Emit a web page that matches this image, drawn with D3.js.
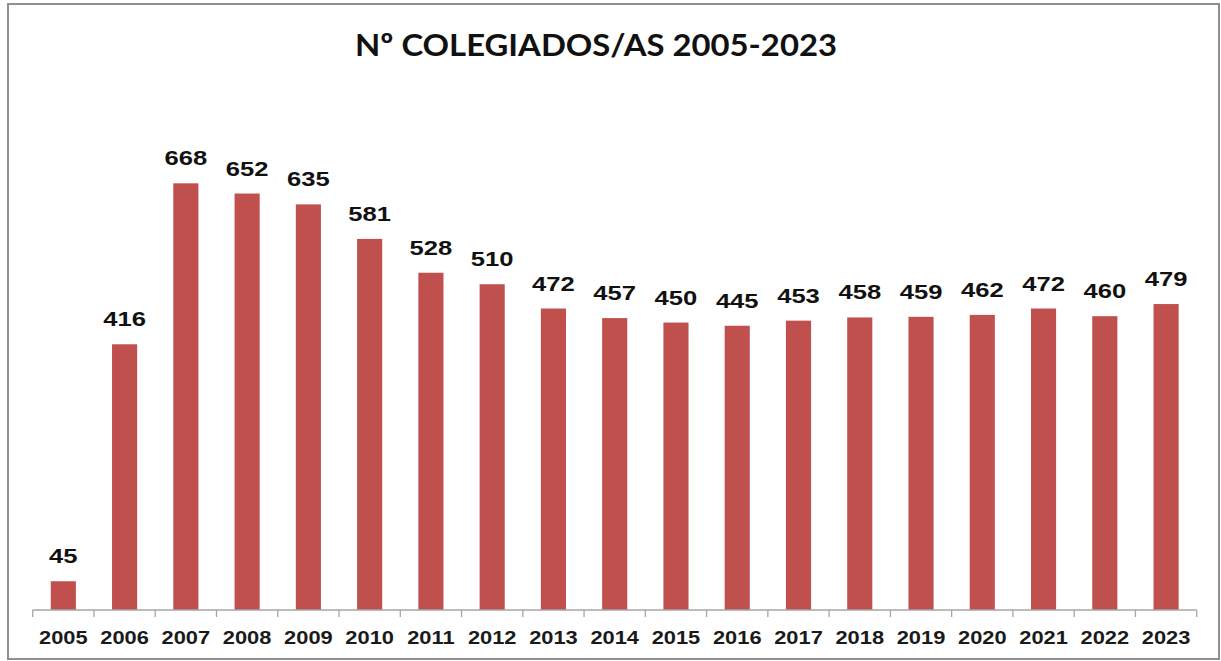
<!DOCTYPE html>
<html>
<head>
<meta charset="utf-8">
<script src="https://cdn.jsdelivr.net/npm/d3@7"></script>
<style>
  html, body { margin: 0; padding: 0; background: #fff; }
  svg { display: block; }
</style>
</head>
<body>
<script>
const titleText = "Nº COLEGIADOS/AS 2005-2023";
const years = ["2005","2006","2007","2008","2009","2010","2011","2012","2013","2014","2015","2016","2017","2018","2019","2020","2021","2022","2023"];
const values = [45,416,668,652,635,581,528,510,472,457,450,445,453,458,459,462,472,460,479];
const yDomain = [0, 800];

const W = 1221, H = 661;
const svg = d3.select("body").append("svg").attr("width", W).attr("height", H);

// frame
svg.append("rect").attr("x", 8).attr("y", 4).attr("width", 1211).attr("height", 655)
  .attr("fill", "#fff").attr("stroke", "#8f8f8f").attr("stroke-width", 2);

const x = d3.scaleBand().domain(years).range([32.7, 1196.7]).paddingInner(0.59).paddingOuter(0.295);
const y = d3.scaleLinear().domain(yDomain).range([610, 99]);

// title
svg.append("text").attr("x", 596).attr("y", 56).attr("text-anchor", "middle")
  .attr("font-family", "Lato, 'Open Sans', sans-serif").attr("font-weight", "bold")
  .attr("font-size", 31).attr("fill", "#111")
  .attr("textLength", 482).attr("lengthAdjust", "spacingAndGlyphs")
  .text(titleText);

// bars
svg.append("g").selectAll("rect").data(years).join("rect")
  .attr("x", d => x(d)).attr("width", x.bandwidth())
  .attr("y", (d, i) => y(values[i])).attr("height", (d, i) => y(0) - y(values[i]))
  .attr("fill", "#C0504D");

// value labels
svg.append("g").selectAll("text").data(years).join("text")
  .attr("transform", (d, i) => `translate(${x(d) + x.bandwidth() / 2},${y(values[i]) - 18}) scale(1.28,1)`)
  .attr("text-anchor", "middle")
  .attr("font-family", "'Liberation Sans', Arial, sans-serif").attr("font-weight", "bold")
  .attr("font-size", 20).attr("fill", "#111")
  .text((d, i) => values[i]);

// x axis
const axis = d3.axisBottom(x).tickSize(0).tickFormat("");
const gx = svg.append("g").attr("transform", `translate(0,610)`).call(axis);
gx.select(".domain").attr("stroke", "#a6a6a6").attr("stroke-width", 1.3)
  .attr("d", `M${x.range()[0]},0H${x.range()[1]}`);
// tick marks between categories
const bounds = years.map(d => x(d) - x.step() * x.paddingInner() / 2);
bounds.push(x.range()[1]);
gx.selectAll(".sep").data(bounds).join("line").attr("class", "sep")
  .attr("x1", d => d).attr("x2", d => d).attr("y1", 0).attr("y2", 7)
  .attr("stroke", "#a6a6a6").attr("stroke-width", 1.3);

// tick labels
svg.append("g").selectAll("text").data(years).join("text")
  .attr("transform", d => `translate(${x(d) + x.bandwidth() / 2},644) scale(1.15,1)`)
  .attr("text-anchor", "middle")
  .attr("font-family", "'Liberation Sans', Arial, sans-serif").attr("font-weight", "bold")
  .attr("font-size", 19).attr("fill", "#1a1a1a")
  .text(d => d);
</script>
</body>
</html>
